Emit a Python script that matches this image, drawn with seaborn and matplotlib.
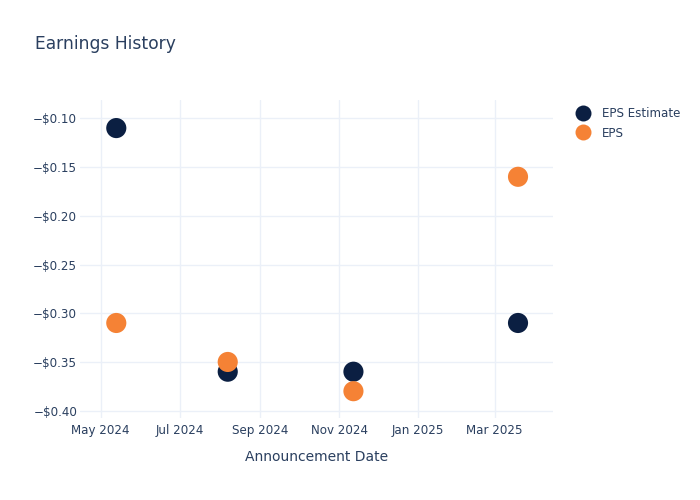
import matplotlib
matplotlib.use("Agg")
import matplotlib.pyplot as plt
import matplotlib.dates as mdates
from matplotlib.ticker import FuncFormatter
from matplotlib.lines import Line2D
import seaborn as sns
import pandas as pd

dates = ["2024-05-13", "2024-08-07", "2024-11-12", "2025-03-19"]
eps_estimate = [-0.11, -0.36, -0.36, -0.31]
eps_actual = [-0.31, -0.35, -0.38, -0.16]
series_names = ["EPS Estimate", "EPS"]
colors = ["#0b1f42", "#f58235"]

df = pd.DataFrame({
    "date": pd.to_datetime(dates * 2),
    "value": eps_estimate + eps_actual,
    "series": [series_names[0]] * len(dates) + [series_names[1]] * len(dates),
})

sns.set_theme(style="white")
plt.rcParams["font.family"] = ["DejaVu Sans"]
text_color = "#2a3f5f"
grid_color = "#ebf0f8"

fig = plt.figure(figsize=(7, 5), dpi=100)
ax = fig.add_axes([80 / 700, 1 - 418 / 500, (553 - 80) / 700, (418 - 100) / 500])

sns.scatterplot(data=df, x="date", y="value", hue="series", hue_order=series_names,
                palette=colors, s=210, linewidth=0, ax=ax, legend=False, zorder=3)

ax.set_xlim(pd.Timestamp("2024-04-15"), pd.Timestamp("2025-04-15"))
ax.set_ylim(-0.4075, -0.0812)

ax.xaxis.set_major_locator(mdates.MonthLocator(bymonth=[1, 3, 5, 7, 9, 11]))
ax.xaxis.set_major_formatter(mdates.DateFormatter("%b %Y"))
ax.set_yticks([-0.40, -0.35, -0.30, -0.25, -0.20, -0.15, -0.10])
ax.yaxis.set_major_formatter(FuncFormatter(lambda v, p: ("\u2212" if v < 0 else "") + f"${abs(v):.2f}"))

ax.grid(True, color=grid_color, linewidth=1)
ax.set_axisbelow(True)
for s in ax.spines.values():
    s.set_visible(False)
ax.tick_params(axis="both", length=0, labelsize=8.6, colors=text_color)
ax.tick_params(axis="x", pad=4)
ax.tick_params(axis="y", pad=2)

ax.set_xlabel("Announcement Date", fontsize=10, color=text_color, labelpad=10)
ax.set_ylabel("")

fig.text(35 / 700, 1 - 44 / 500, "Earnings History", fontsize=12.3, color=text_color,
         ha="left", va="center")

handles = [Line2D([0], [0], marker="o", linestyle="", markersize=11.5,
                  markerfacecolor=c, markeredgewidth=0) for c in colors]
leg = fig.legend(handles, series_names, loc="upper left",
                 bbox_to_anchor=(576 / 700, 1 - 107 / 500), frameon=False,
                 fontsize=8.6, handletextpad=1.0, labelspacing=0.55,
                 handlelength=1.2, borderaxespad=0, borderpad=0)
for t in leg.get_texts():
    t.set_color(text_color)

fig.savefig("out.png", dpi=100)
